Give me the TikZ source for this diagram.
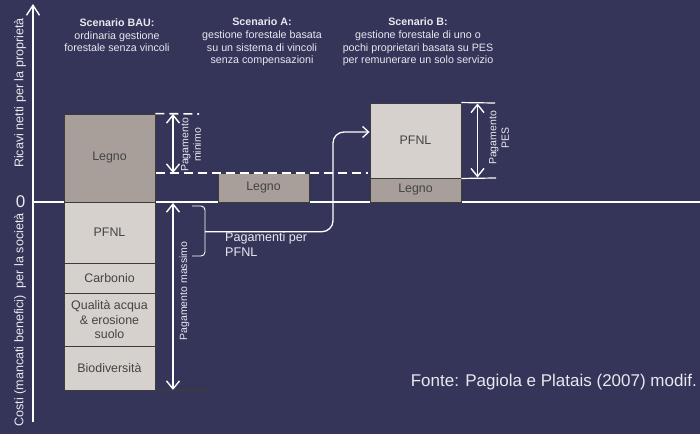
\documentclass[tikz,border=0pt]{standalone}
\usepackage{fontspec}
\setmainfont{Liberation Sans}
\usetikzlibrary{arrows.meta,calc}
\definecolor{bgc}{RGB}{53,53,90}
\definecolor{woodc}{RGB}{168,158,154}
\definecolor{lightc}{RGB}{214,209,205}
\definecolor{txtc}{RGB}{232,232,238}
\definecolor{boxtxtc}{RGB}{68,68,68}
\definecolor{edgec}{RGB}{60,60,60}
\begin{document}
\begin{tikzpicture}[x=1pt,y=-1pt,
  cell/.style={draw=edgec, line width=0.9pt, inner sep=0pt, minimum width=91pt, text=boxtxtc, font=\fontsize{12.4}{14.2}\selectfont, align=center},
  woodcell/.style={cell, fill=woodc},
  lightcell/.style={cell, fill=lightc},
  ttl/.style={text=txtc, font=\fontsize{10.7}{12.6}\selectfont, align=center, inner sep=0pt},
  axlab/.style={text=txtc, font=\fontsize{12.6}{14}\selectfont, rotate=90, inner sep=0pt},
  paylab/.style={text=txtc, font=\fontsize{10.5}{12.4}\selectfont, rotate=90, align=center, inner sep=0pt},
  payarrow/.style={white, line width=1.4pt, {Straight Barb[length=8pt,width=13pt]}-{Straight Barb[length=8pt,width=13pt]}},
  dashln/.style={white, line width=1.6pt, dash pattern=on 9pt off 5pt},
  thinln/.style={white, line width=1.2pt},
  flow/.style={white, line width=1.3pt, rounded corners=11pt, -{Straight Barb[length=6pt,width=11pt]}},
  bracestyle/.style={white, line width=0.9pt, rounded corners=4pt},
]
\fill[bgc] (0,0) rectangle (700,434);
\useasboundingbox (0,0) rectangle (700,434);

% axes
\coordinate (zl) at (33,202);
\coordinate (zr) at (700,202);
\coordinate (axb) at (33,422);
\coordinate (axt) at (33,4);
\draw[white, line width=1.8pt] (zl) -- (zr);
\draw[white, line width=1.4pt, -{Straight Barb[length=10pt,width=13pt]}] (axb) -- (axt);
\node[text=txtc, font=\fontsize{17}{20}\selectfont, inner sep=0pt] (zero) at (20.5,202) {0};
\node[axlab] (lab1) at (20,93) {Ricavi netti per la proprietà};
\node[axlab] (lab2) at (20,320) {Costi (mancati benefici)\ \ per la società};

% titles
\node[ttl] (tBAU) at (117,35.5) {\textbf{Scenario BAU:}\\ordinaria gestione\\forestale senza vincoli};
\node[ttl] (tA) at (262,42) {\textbf{Scenario A:}\\gestione forestale basata\\su un sistema di vincoli\\senza compensazioni};
\node[ttl] (tB) at (418,42) {\textbf{Scenario B:}\\gestione forestale di uno o\\pochi proprietari basata su PES\\per remunerare un solo servizio};

% BAU column
\node[woodcell, minimum height=88pt] (legBAU) at (109.5,158) {Legno};
\node[lightcell, minimum height=61pt] (pfnlBAU) at (109.5,232.5) {PFNL};
\node[lightcell, minimum height=30pt] (carb) at (109.5,278) {Carbonio};
\node[lightcell, minimum height=53pt] (acqua) at (109.5,319.5) {Qualità acqua\\\& erosione\\suolo};
\node[lightcell, minimum height=44pt] (bio) at (109.5,368) {Biodiversità};

% Scenario A
\node[woodcell, minimum height=29pt] (legA) at (263.5,187.5) {Legno};

% Scenario B
\node[lightcell, minimum height=75pt] (pfnlB) at (415.5,140.5) {PFNL};
\node[woodcell, minimum height=24pt] (legB) at (415.5,190) {Legno};

% dashed guides
\coordinate (d1e) at (199,114);
\coordinate (d2e) at (368,173);
\draw[dashln] (legBAU.north east) -- (d1e);
\draw[dashln] (155.5,173) coordinate (d2s) -- (d2e);

% pagamento minimo
\coordinate (pmT) at (173,114);
\coordinate (pmB) at (173,173);
\draw[payarrow] (pmT) -- (pmB);
\node[paylab] (pmlab) at (191,145) {Pagamento\\minimo};

% pagamento massimo
\coordinate (pxT) at (173,203);
\coordinate (pxB) at (173,390);
\draw[payarrow] (pxT) -- (pxB);
\node[paylab] (pxlab) at (184.5,291) {Pagamento massimo};
\coordinate (baseR) at (211,390);
\draw[edgec, line width=1.5pt] (bio.south east) -- (baseR);

% pagamento PES
\coordinate (pesT) at (495,103);
\coordinate (pesB) at (496,178);
\draw[thinln] (pfnlB.north east) -- (pesT);
\draw[thinln] (pfnlB.south east) -- (pesB);
\coordinate (paT) at (477.5,103.5);
\coordinate (paB) at (477.5,177.5);
\draw[payarrow] (paT) -- (paB);
\node[paylab] (peslab) at (499,138) {Pagamento\\PES};

% brace and flow
\coordinate (brT) at (192,206);
\coordinate (brB) at (192,256);
\coordinate (brtip) at (205,231.7);
\draw[bracestyle] (brT) -- (205,206) -- (brtip) -- (205,256) -- (brB);
\coordinate (turn) at (333,132);
\coordinate (pin) at (pfnlB.west |- turn);
\draw[flow] (brtip) -| (turn) -- (pin);
\node[text=txtc, font=\fontsize{12.6}{15.3}\selectfont, align=left, anchor=north west, inner sep=0pt] (pp) at (225,232) {Pagamenti per\\PFNL};

% source
\node[text=txtc, font=\fontsize{17}{20}\selectfont, anchor=east, inner sep=0pt] (src) at (697,382) {Fonte: Pagiola e Platais (2007) modif.};
\end{tikzpicture}
\end{document}
